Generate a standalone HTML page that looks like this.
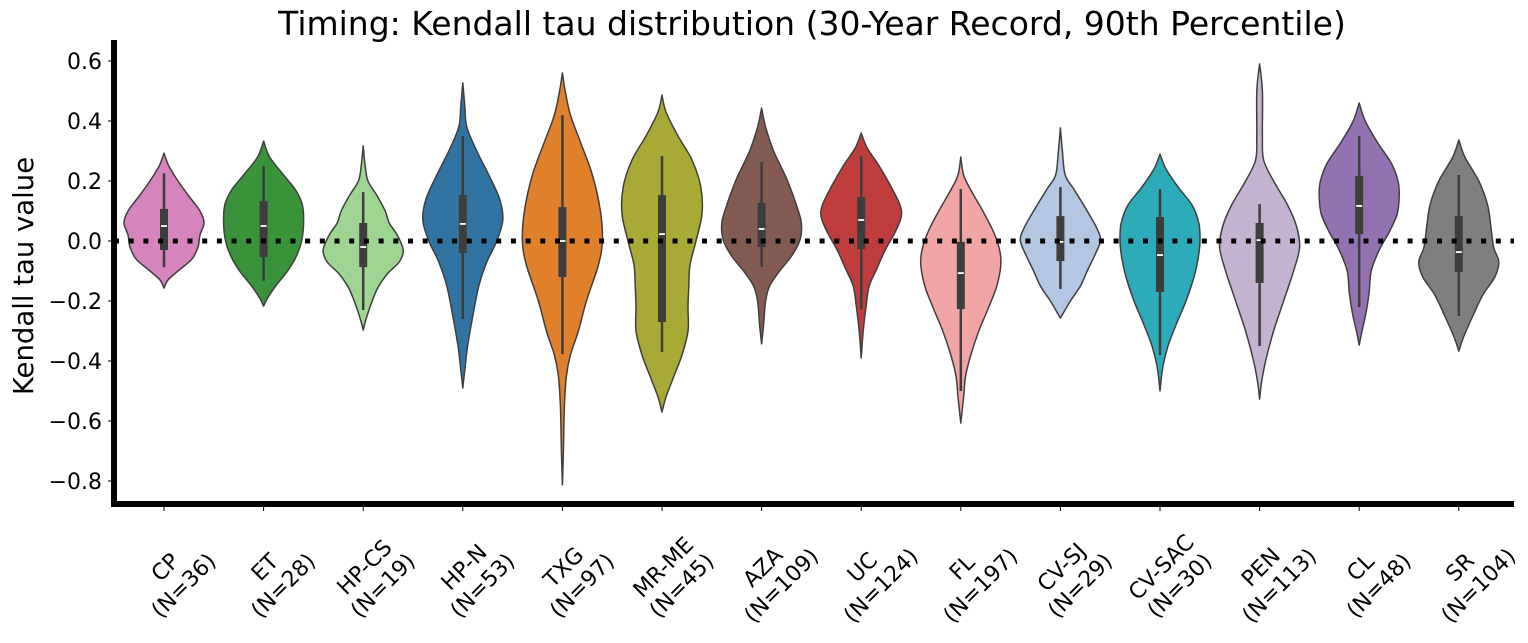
<!DOCTYPE html>
<html><head><meta charset="utf-8"><style>
body{margin:0;background:#fff}
svg{display:block;font-family:"DejaVu Sans","Liberation Sans",sans-serif}
</style></head><body>
<svg id="chart" width="1528" height="643" viewBox="0 0 1528 643" xmlns="http://www.w3.org/2000/svg">
<text x="812" y="35" font-size="33" text-anchor="middle" fill="#000">Timing: Kendall tau distribution (30-Year Record, 90th Percentile)</text>
<text transform="translate(33,276) rotate(-90)" font-size="27.5" text-anchor="middle" fill="#000">Kendall tau value</text>
<g id="violins"></g>
<g id="yticks"></g>
<g id="xticks"></g>
<line x1="114" y1="241" x2="1514" y2="241" stroke="#000" stroke-width="5" stroke-dasharray="5,9.7"/>
<line x1="114" y1="40" x2="114" y2="507" stroke="#000" stroke-width="6"/>
<line x1="111" y1="504" x2="1514" y2="504" stroke="#000" stroke-width="6"/>
</svg>
<script>
const categories = ["CP","ET","HP-CS","HP-N","TXG","MR-ME","AZA","UC","FL","CV-SJ","CV-SAC","PEN","CL","SR"];
const counts = [36,28,19,53,97,45,109,124,197,29,30,113,48,104];
const colors = ["#d684bd","#3a923a","#9ed593","#3274a1","#e1812c","#a9aa35","#845b53","#c03d3e","#f2a5a5","#b3c7e2","#2eabb8","#c4b4d2","#9372b2","#7f7f7f"];
const medians = [0.05,0.05,-0.02,0.057,0,0.023,0.04,0.07,-0.107,-0.003,-0.047,0.003,0.117,-0.037];
const q1s = [-0.03,-0.053,-0.087,-0.04,-0.12,-0.27,-0.02,-0.027,-0.227,-0.067,-0.17,-0.14,0.023,-0.103];
const q3s = [0.107,0.133,0.06,0.153,0.113,0.153,0.127,0.147,-0.003,0.083,0.08,0.06,0.217,0.083];
const whiskerLow = [-0.087,-0.133,-0.23,-0.26,-0.377,-0.37,-0.087,-0.227,-0.5,-0.16,-0.38,-0.35,-0.22,-0.25];
const whiskerHigh = [0.226,0.25,0.163,0.35,0.42,0.283,0.263,0.283,0.173,0.18,0.173,0.123,0.35,0.22];
// density profiles: [value, relative density 0..1]
const densities = [
 [[0.293,0],[0.25,.12],[0.2,.35],[0.15,.62],[0.1,.9],[0.06,1],[0.02,.9],[-0.02,.85],[-0.06,.7],[-0.1,.35],[-0.13,.1],[-0.157,0]],
 [[0.333,0],[0.28,.15],[0.22,.5],[0.17,.8],[0.12,.97],[0.06,1],[0,.95],[-0.05,.82],[-0.1,.6],[-0.15,.3],[-0.19,.1],[-0.217,0]],
 [[0.317,0],[0.25,.05],[0.2,.12],[0.15,.35],[0.1,.55],[0.06,.65],[0.02,.85],[-0.03,1],[-0.07,.9],[-0.11,.6],[-0.16,.35],[-0.22,.17],[-0.27,.05],[-0.297,0]],
 [[0.527,0],[0.45,.05],[0.38,.1],[0.3,.35],[0.22,.65],[0.14,.92],[0.07,1],[0,.85],[-0.07,.6],[-0.15,.4],[-0.25,.25],[-0.35,.12],[-0.43,.05],[-0.49,0]],
 [[0.56,0],[0.5,.07],[0.42,.2],[0.33,.45],[0.22,.75],[0.1,.95],[0,1],[-0.08,.9],[-0.2,.6],[-0.3,.4],[-0.38,.2],[-0.45,.1],[-0.55,.05],[-0.7,.025],[-0.813,0]],
 [[0.487,0],[0.43,.1],[0.35,.4],[0.27,.75],[0.18,.97],[0.09,1],[0,.85],[-0.08,.7],[-0.15,.67],[-0.22,.65],[-0.3,.65],[-0.38,.5],[-0.45,.3],[-0.52,.1],[-0.57,0]],
 [[0.443,0],[0.38,.1],[0.3,.3],[0.2,.65],[0.1,.92],[0.05,1],[0,.95],[-0.05,.75],[-0.1,.45],[-0.15,.2],[-0.2,.1],[-0.28,.05],[-0.343,0]],
 [[0.36,0],[0.31,.15],[0.25,.45],[0.18,.75],[0.12,.97],[0.08,1],[0.03,.85],[-0.03,.6],[-0.09,.4],[-0.15,.2],[-0.22,.12],[-0.3,.05],[-0.39,0]],
 [[0.28,0],[0.22,.07],[0.17,.25],[0.1,.55],[0.03,.82],[-0.03,.97],[-0.08,1],[-0.15,.9],[-0.22,.7],[-0.3,.45],[-0.38,.25],[-0.45,.12],[-0.52,.07],[-0.607,0]],
 [[0.377,0],[0.3,.05],[0.22,.12],[0.17,.35],[0.1,.67],[0.04,.92],[0,1],[-0.05,.85],[-0.1,.67],[-0.15,.5],[-0.2,.25],[-0.257,0]],
 [[0.29,0],[0.24,.15],[0.18,.45],[0.12,.8],[0.06,.97],[0,1],[-0.06,.95],[-0.12,.85],[-0.2,.65],[-0.28,.4],[-0.35,.2],[-0.42,.07],[-0.5,0]],
 [[0.59,0],[0.5,.07],[0.35,.07],[0.27,.1],[0.2,.35],[0.12,.7],[0.05,.92],[-0.02,1],[-0.1,.85],[-0.2,.6],[-0.3,.35],[-0.4,.15],[-0.47,.05],[-0.527,0]],
 [[0.46,0],[0.4,.15],[0.33,.45],[0.26,.8],[0.2,.97],[0.15,1],[0.09,.95],[0.03,.75],[-0.03,.5],[-0.1,.3],[-0.17,.25],[-0.24,.17],[-0.3,.07],[-0.347,0]],
 [[0.337,0],[0.28,.15],[0.2,.5],[0.12,.72],[0.05,.8],[-0.02,.87],[-0.07,1],[-0.12,.9],[-0.18,.6],[-0.25,.35],[-0.32,.12],[-0.367,0]]
];
const yTicks = [0.6,0.4,0.2,0.0,-0.2,-0.4,-0.6,-0.8];

const NS="http://www.w3.org/2000/svg";
function yScale(v){return 241-300*v;}
function xScale(i){return 164+i*99.6;}
const halfW=40;
function mk(tag,attrs,parent){const e=document.createElementNS(NS,tag);for(const k in attrs)e.setAttribute(k,attrs[k]);parent.appendChild(e);return e;}
function smooth(pts){
  let d="M"+pts[0][0]+","+pts[0][1];
  for(let i=0;i<pts.length-1;i++){
    const p0=pts[Math.max(i-1,0)],p1=pts[i],p2=pts[i+1],p3=pts[Math.min(i+2,pts.length-1)];
    const c1=[p1[0]+(p2[0]-p0[0])/6,p1[1]+(p2[1]-p0[1])/6];
    const c2=[p2[0]-(p3[0]-p1[0])/6,p2[1]-(p3[1]-p1[1])/6];
    d+=" C"+c1[0]+","+c1[1]+" "+c2[0]+","+c2[1]+" "+p2[0]+","+p2[1];
  }
  return d;
}
const vg=document.getElementById('violins');
categories.forEach((c,i)=>{
  const cx=xScale(i);
  const g=mk('g',{},vg);
  
  
  const prof=densities[i];
  const right=prof.map(p=>[cx+p[1]*halfW,yScale(p[0])]);
  const left=prof.slice().reverse().map(p=>[cx-p[1]*halfW,yScale(p[0])]);
  const d=smooth(right)+" "+smooth(left).replace(/^M/,"L")+" Z";
  const body=mk('path',{d:d,fill:colors[i],stroke:"#3f3f3f","stroke-width":1.5,"stroke-linejoin":"round"},g);
  
  
  const wh=mk('line',{x1:cx,x2:cx,y1:yScale(whiskerHigh[i]),y2:yScale(whiskerLow[i]),stroke:"#3d3d3d","stroke-width":2.5},g);
  
  
  const bx=mk('rect',{x:cx-4,width:8,y:yScale(q3s[i]),height:yScale(q1s[i])-yScale(q3s[i]),fill:"#3d3d3d"},g);
  
  
  const md=mk('line',{x1:cx-3,x2:cx+3,y1:yScale(medians[i]),y2:yScale(medians[i]),stroke:"#fff","stroke-width":1.8},g);
  
  
});
const yg=document.getElementById('yticks');
yTicks.forEach(t=>{
  const y=yScale(t);
  const tl=mk('line',{x1:108,x2:114,y1:y,y2:y,stroke:"#000","stroke-width":1},yg);
  
  
  const lab=(t<0?"\u2212":"")+Math.abs(t).toFixed(1);
  const tx=mk('text',{x:102,y:y+8,"font-size":22,"text-anchor":"end",fill:"#000"},yg);
  tx.textContent=lab;
  
  
});
const xg=document.getElementById('xticks');
categories.forEach((c,i)=>{
  const x=xScale(i);
  const tl=mk('line',{x1:x,x2:x,y1:507,y2:511,stroke:"#000","stroke-width":1},xg);
  
  
  const t=mk('text',{transform:"translate("+(x+10)+",576) rotate(-45)","font-size":22,"text-anchor":"middle",fill:"#000"},xg);
  
  
  const a=mk('tspan',{x:0,y:-5},t);a.textContent=c;
  const b=mk('tspan',{x:0,y:21},t);b.textContent="(N="+counts[i]+")";
});
</script>
</body></html>
